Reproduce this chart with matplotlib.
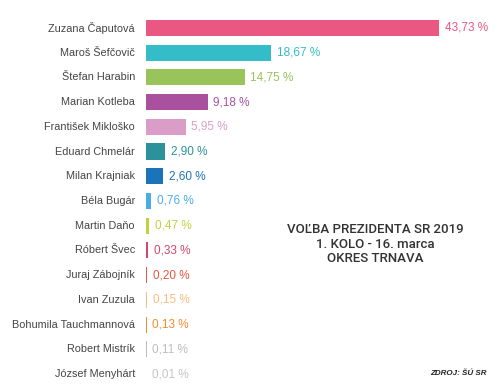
import matplotlib.pyplot as plt

names = ["Zuzana Čaputová", "Maroš Šefčovič", "Štefan Harabin", "Marian Kotleba",
         "František Mikloško", "Eduard Chmelár", "Milan Krajniak", "Béla Bugár",
         "Martin Daňo", "Róbert Švec", "Juraj Zábojník", "Ivan Zuzula",
         "Bohumila Tauchmannová", "Robert Mistrík", "József Menyhárt"]
values = [43.73, 18.67, 14.75, 9.18, 5.95, 2.90, 2.60, 0.76,
          0.47, 0.33, 0.20, 0.15, 0.13, 0.11, 0.01]
colors = ["#EA5783", "#35BCC9", "#98C45A", "#A9519E", "#D99DC7", "#2B919B",
          "#1B73BA", "#47AEE5", "#C0D23C", "#D2466C", "#E9573F", "#F8BC80",
          "#F58C2C", "#BDBDBD", "#C6C6C6"]

plt.rcParams['font.family'] = ['Liberation Sans', 'DejaVu Sans']

fig = plt.figure(figsize=(5, 3.89), dpi=100)
ax = fig.add_axes([0.292, 0.0067, 0.708, 0.9533])

y = range(len(names))
ax.barh(y, values, height=0.65, color=colors)
ax.set_xlim(0, 52.8)
ax.set_ylim(len(names) - 0.5, -0.5)

for i, (n, v, c) in enumerate(zip(names, values, colors)):
    ax.annotate(n, (0, i), xytext=(-8, 0), textcoords='offset points',
                ha='right', va='center', fontsize=7.8, color='#444444')
    lab = ("%.2f %%" % v).replace('.', ',')
    ax.annotate(lab, (v, i), xytext=(4, 0), textcoords='offset points',
                ha='left', va='center', fontsize=8.5, color=c)

for s in ax.spines.values():
    s.set_visible(False)
ax.set_xticks([])
ax.set_yticks([])

fig.text(0.75, 0.372, "VOĽBA PREZIDENTA SR 2019\n1. KOLO - 16. marca\nOKRES TRNAVA",
         ha='center', va='center', fontsize=9.5, color='#333333',
         family=['Roboto', 'DejaVu Sans'], fontweight='medium',
         linespacing=1.15)
fig.text(0.974, 0.04, "ZDROJ: ŠÚ SR", ha='right', va='center', fontsize=5.8,
         color='#222222', fontweight='bold', fontstyle='italic')

fig.savefig("out.png", dpi=100)
